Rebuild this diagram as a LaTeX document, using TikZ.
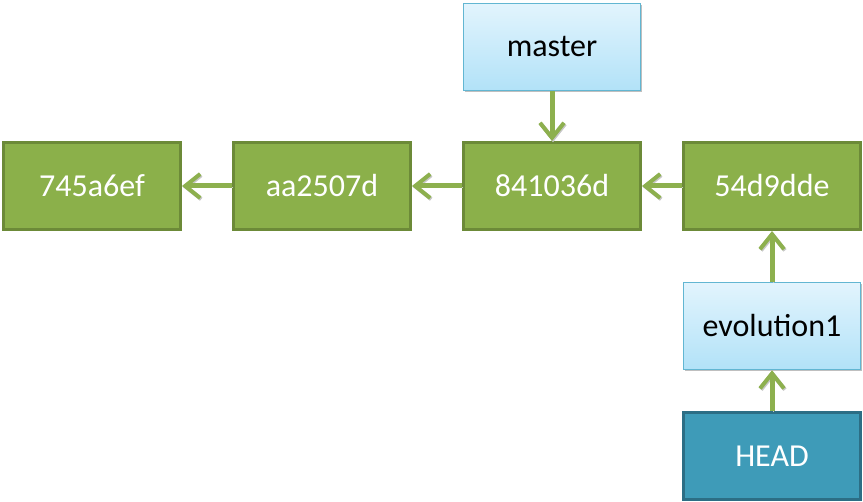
\documentclass[tikz,border=0pt]{standalone}
\usepackage{fontspec}
\setmainfont{Carlito}
\usetikzlibrary{arrows.meta,shadows}
\definecolor{commitfill}{HTML}{8BB04A}
\definecolor{commitline}{HTML}{6C8A38}
\definecolor{branchtop}{HTML}{E2F4FD}
\definecolor{branchbot}{HTML}{B2E2F8}
\definecolor{branchline}{HTML}{62B6D2}
\definecolor{headfill}{HTML}{3E9BB8}
\definecolor{headline}{HTML}{2C6E85}
\definecolor{arrowgreen}{HTML}{8DB04E}
\tikzset{
  box/.style={rectangle, minimum width=177pt, minimum height=87pt,
    inner sep=0pt, font=\fontsize{32}{38}\selectfont,
    drop shadow={shadow xshift=1.5pt, shadow yshift=-1.5pt, opacity=0.25, fill=black}},
  commit/.style={box, fill=commitfill, draw=commitline, line width=3pt, text=white},
  branch/.style={box, top color=branchtop, bottom color=branchbot, draw=branchline, line width=1.5pt, text=black},
  headbox/.style={box, fill=headfill, draw=headline, line width=3pt, text=white},
  ptr/.style={draw=arrowgreen, line width=5pt,
    -{Straight Barb[length=15pt, width=24pt, line width=4pt]},
    preaction={draw=black!22, transform canvas={shift={(1pt,-1.2pt)}}}}
}
\begin{document}
\begin{tikzpicture}[x=1pt, y=-1pt]
  \useasboundingbox (0,0) rectangle (863,502);
  % commits
  \node[commit] (c1) at (92,186) {745a6ef};
  \node[commit] (c2) at (322,186) {aa2507d};
  \node[commit] (c3) at (552,186) {841036d};
  \node[commit] (c4) at (772,186) {54d9dde};
  % branches and HEAD
  \node[branch] (master) at (552,47) {master};
  \node[branch] (evo) at (772,326) {evolution1};
  \node[headbox] (head) at (772,456) {HEAD};
  % parent links and references
  \draw[ptr] (c2.west) -- (c1.east);
  \draw[ptr] (c3.west) -- (c2.east);
  \draw[ptr] (c4.west) -- (c3.east);
  \draw[ptr] (master.south) -- (c3.north);
  \draw[ptr] (evo.north) -- (c4.south);
  \draw[ptr] (head.north) -- (evo.south);
\end{tikzpicture}
\end{document}
